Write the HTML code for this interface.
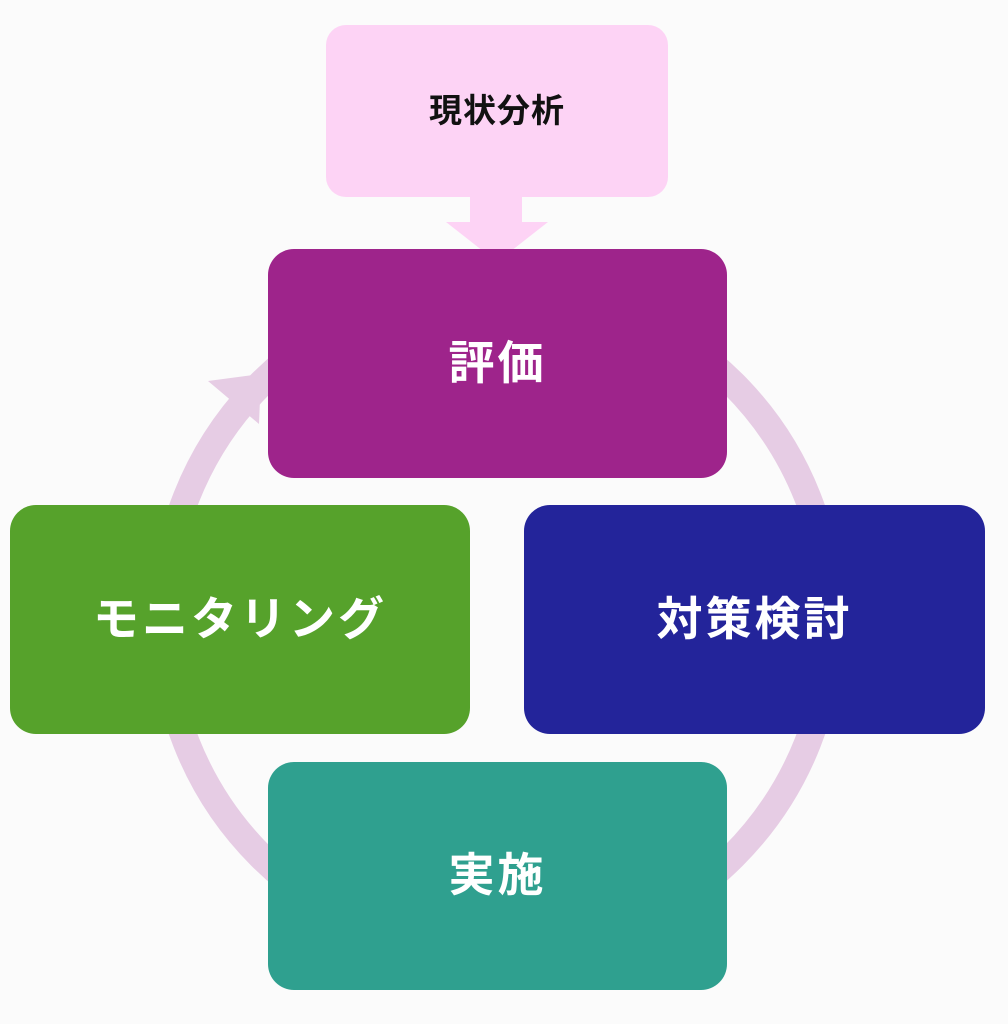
<!DOCTYPE html>
<html><head><meta charset="utf-8"><style>
body{margin:0;background:#fbfbfb;width:1008px;height:1024px;position:relative;overflow:hidden;font-family:"Liberation Sans","Noto Sans CJK JP",sans-serif}
.b{position:absolute;border-radius:26px;display:flex;align-items:center;justify-content:center;color:#fff;font-size:46px;font-weight:bold;letter-spacing:3px}
</style></head><body>
<svg width="1008" height="1024" style="position:absolute;left:0;top:0">
<circle cx="497" cy="620" r="334" fill="none" stroke="#e6cce4" stroke-width="27"/>
<polygon points="208,381 261,374 259,424" fill="#e6cce4"/>
<polygon points="470,195 522,195 522,222 548,222 497,262 446,222 470,222" fill="#fdd3f5"/>
</svg>
<div class="b" style="left:326px;top:25px;width:342px;height:172px;background:#fdd3f5;color:#111;font-size:33px;letter-spacing:1px;border-radius:20px;padding-bottom:6px;box-sizing:border-box">現状分析</div>
<div class="b" style="left:268px;top:249px;width:459px;height:229px;background:#9e248b;padding-bottom:8px;box-sizing:border-box">評価</div>
<div class="b" style="left:10px;top:505px;width:460px;height:229px;background:#56a22b;padding-bottom:8px;box-sizing:border-box">モニタリング</div>
<div class="b" style="left:524px;top:505px;width:461px;height:229px;background:#23249a;padding-bottom:8px;box-sizing:border-box">対策検討</div>
<div class="b" style="left:268px;top:762px;width:459px;height:228px;background:#2fa08f;padding-bottom:8px;box-sizing:border-box">実施</div>
</body></html>
